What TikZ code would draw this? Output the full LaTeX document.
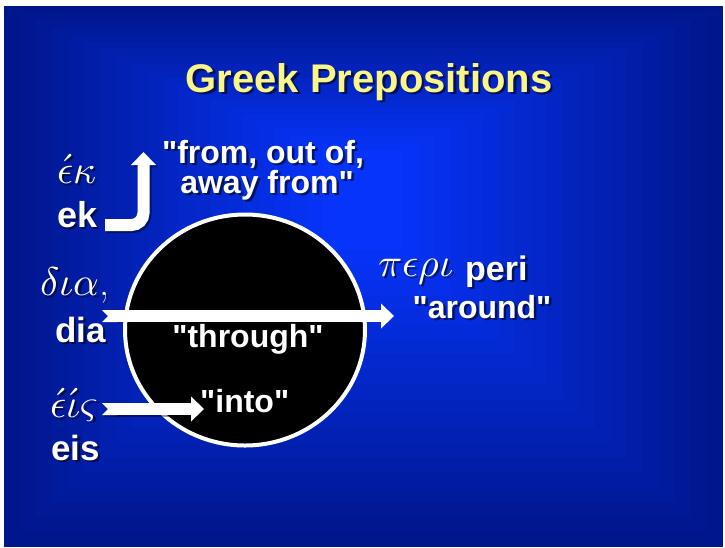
\documentclass[tikz,border=0pt]{standalone}
\usepackage{unicode-math}
\setsansfont{Liberation Sans}[Ligatures=TeXOff]
\usetikzlibrary{arrows.meta,shapes.geometric}
\definecolor{bgout}{RGB}{0,22,140}
\definecolor{bgin}{RGB}{6,52,250}
\definecolor{ttl}{RGB}{250,245,135}
\newcommand{\shtxt}[4]{%
  \node[#3,text=black,opacity=.55,xshift=2.5pt,yshift=-2.5pt] (#1-sh) at (#2) {#4};
  \node[#3] (#1) at (#2) {#4};}
\tikzset{
  lbl/.style={inner sep=0pt,text=white,font=\sffamily\bfseries\fontsize{#1}{#1}\selectfont},
  grk/.style={inner sep=0pt,text=white,font=\fontsize{40}{40}\selectfont},
  bar/.style={draw=white,line width=12pt},
  headtip/.style={-{Triangle[width=25pt,length=13pt,line width=0pt]}},
  notchtip/.style={{Triangle Cap[reversed]}-{Triangle[width=25pt,length=13pt,line width=0pt]}},
  shadowed/.style={transform canvas={shift={(2pt,-2pt)}}},
}
\begin{document}
\begin{tikzpicture}[x=1pt,y=-1pt]
\useasboundingbox (0,0) rectangle (725,547);
\fill[white] (0,0) rectangle (725,547);
\foreach \i in {0,...,20}{
  \pgfmathsetmacro\t{\i/20}
  \pgfmathsetmacro\p{100*\t}
  \pgfmathsetmacro\xa{4+\t*(323-4)}
  \pgfmathsetmacro\xb{723-\t*(723-403)}
  \pgfmathsetmacro\ya{6+\t*(150-6)}
  \pgfmathsetmacro\yb{547-\t*(547-250)}
  \fill[bgin!\p!bgout] (\xa,\ya) rectangle (\xb,\yb);
}
% circle
\node[ellipse,draw=white,line width=4pt,fill=black,minimum width=240pt,minimum height=231pt,inner sep=0pt] (circ) at (245,330) {};
% arrow end points
\coordinate (ekS) at (105,225);
\coordinate (ekC) at (143.5,225);
\coordinate (ekT) at (143.5,152);
\coordinate (diaS) at (102,316);
\coordinate (diaE) at (394,316);
\coordinate (eisS) at (102,409);
\coordinate (eisE) at (204,409);
% arrow shadows
\begin{scope}[shadowed,opacity=.4]
  \draw[bar,draw=black,rounded corners=12pt,headtip] (ekS) -- (ekC) -- (ekT);
  \draw[bar,draw=black,notchtip] (eisS) -- (eisE);
\end{scope}
% arrows
\draw[bar,rounded corners=12pt,headtip] (ekS) -- (ekC) -- (ekT);
\draw[bar,notchtip] (diaS) -- (diaE);
\draw[bar,notchtip] (eisS) -- (eisE);
% title
\shtxt{title}{369,92}{lbl=40,text=ttl,anchor=base}{Greek Prepositions}
% ek
\shtxt{ekg}{57,183}{grk,anchor=base west}{$\acute{\epsilon}\kappa$}
\shtxt{ek}{57,227}{lbl=36,anchor=base west}{ek}
\shtxt{from1}{263,163}{lbl=32,anchor=base}{"from, out of,}
\shtxt{from2}{267,193}{lbl=32,anchor=base}{away from"}
% dia
\shtxt{diag}{40,295}{grk,anchor=base west}{$\delta\iota\alpha$,}
\shtxt{dia}{55,342}{lbl=35,anchor=base west}{dia}
\shtxt{through}{248,347}{lbl=32,anchor=base}{"through"}
% eis
\shtxt{eisg}{50,417}{grk,anchor=base west}{$\acute{\epsilon}\acute{\iota}\varsigma$}
\shtxt{eis}{51,460}{lbl=35,anchor=base west}{eis}
\shtxt{into}{200,412}{lbl=32,anchor=base west}{"into"}
% peri
\shtxt{perig}{378,276}{grk,anchor=base west}{$\pi\epsilon\rho\iota$}
\shtxt{peri}{465,280}{lbl=34,anchor=base west}{peri}
\shtxt{around}{482,318}{lbl=32,anchor=base}{"around"}
\end{tikzpicture}
\end{document}
